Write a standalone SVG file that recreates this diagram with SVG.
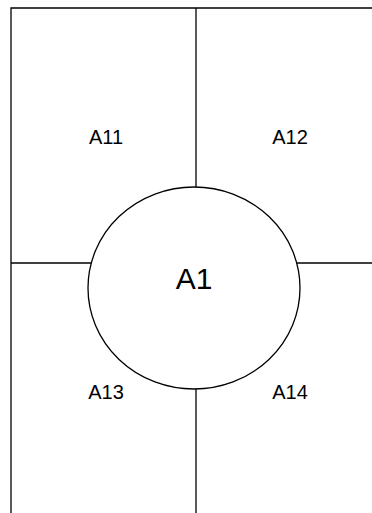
<svg xmlns="http://www.w3.org/2000/svg" width="372" height="513" viewBox="0 0 372 513">
<style>
.ln{stroke:#000;stroke-width:1.3;fill:none}
.lbl{font-family:"Liberation Sans",Arial,sans-serif;font-size:20px;fill:#000;text-anchor:middle}
</style>
<rect width="372" height="513" fill="#fff"/>
<g id="connectors">
<path class="ln" d="M11,513 V8 H372"/>
<path class="ln" d="M196,8 V187"/>
<path class="ln" d="M196,389 V513"/>
<path class="ln" d="M11,263 H91"/>
<path class="ln" d="M297,263 H372"/>
</g>
<g id="A1">
<ellipse class="ln" cx="194" cy="288" rx="106" ry="101"/>
<text class="lbl" x="194" y="289" style="font-size:30px">A1</text>
</g>
<g id="A11"><text class="lbl" x="106" y="144">A11</text></g>
<g id="A12"><text class="lbl" x="290" y="144">A12</text></g>
<g id="A13"><text class="lbl" x="106" y="399">A13</text></g>
<g id="A14"><text class="lbl" x="290" y="399">A14</text></g>
</svg>
